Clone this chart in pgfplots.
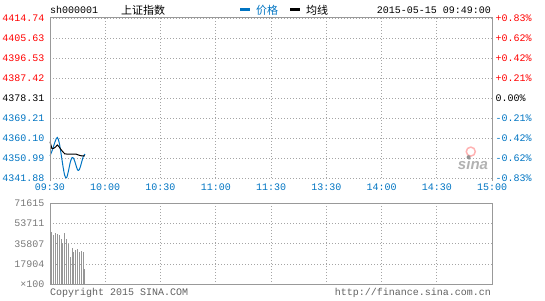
\documentclass[border=0pt]{standalone}
\usepackage{pgfplots}
\pgfplotsset{compat=1.18}
\usepackage{fontspec}
\setmainfont{Liberation Sans}
\setmonofont{Liberation Mono}
\newfontfamily\cjk{Noto Sans CJK SC}
\definecolor{sblue}{RGB}{0,116,194}
\definecolor{sred}{RGB}{255,0,0}
\definecolor{sframe}{RGB}{153,153,153}
\definecolor{sgrid}{RGB}{165,165,165}
\definecolor{svol}{RGB}{150,150,150}
\definecolor{slab}{RGB}{120,120,120}
\newcommand{\mono}{\ttfamily\fontsize{10}{10}\selectfont}
\begin{document}
\begin{tikzpicture}
\path[use as bounding box] (0pt,0pt) rectangle (545pt,300pt);
% header
\node[anchor=west,inner sep=0] at (50pt,290pt) {\mono sh000001};
\node[anchor=west,inner sep=0] at (121pt,290pt) {\cjk\fontsize{11}{11}\selectfont 上证指数};
\fill[sblue] (240pt,289pt) rectangle (250pt,291.5pt);
\node[anchor=west,inner sep=0,text=sblue] at (256pt,290pt) {\cjk\fontsize{11}{11}\selectfont 价格};
\fill[black] (290pt,289pt) rectangle (300pt,291.5pt);
\node[anchor=west,inner sep=0] at (306pt,290pt) {\cjk\fontsize{11}{11}\selectfont 均线};
\node[anchor=east,inner sep=0] at (491pt,290pt) {\mono 2015-05-15 09:49:00};
% price axis
\begin{axis}[
  at={(50pt,122pt)}, anchor=south west, scale only axis,
  width=442pt, height=160pt,
  xmin=0, xmax=240, ymin=4341.88, ymax=4414.74,
  axis line style={draw=none},
  major tick length=0pt,
  xtick={0,30,...,240},
  xticklabels={09:30,10:00,10:30,11:00,11:30,13:30,14:00,14:30,15:00},
  xticklabel style={text=sblue, font=\mono, anchor=center, yshift=-9pt},
  ytick={4341.88,4350.99,4360.10,4369.21,4387.42,4396.53,4405.63,4414.74},
  yticklabels={\color{sblue}4341.88,\color{sblue}4350.99,\color{sblue}4360.10,\color{sblue}4369.21,\color{sred}4387.42,\color{sred}4396.53,\color{sred}4405.63,\color{sred}4414.74},
  yticklabel style={font=\mono, anchor=east, xshift=-2pt},
  extra y ticks={4378.31},
  extra y tick labels={4378.31},
  extra y tick style={grid style={black, dash pattern=on 2pt off 2pt, line width=0.8pt}},
  grid=major,
  major grid style={sgrid, dash pattern=on 1pt off 2pt, line width=0.7pt},
  clip=false,
]
\node[text=sframe!75, font=\bfseries\itshape\fontsize{15}{15}\selectfont, inner sep=0] at (rel axis cs:0.957,0.085) {sina};
\draw[red!30, line width=1.5pt] (rel axis cs:0.952,0.165) circle (4.5pt);
\fill[slab!80] (rel axis cs:0.947,0.13) circle (2pt);
\addplot[sblue, line width=1pt, smooth, tension=0.5] coordinates {
(0,4352.0) (1,4354.0) (2,4356.5) (3,4359.0) (4,4360.3) (5,4358.0) (6,4353.0) (7,4347.5) (8,4343.0) (9,4342.0)
(10,4345.0) (11,4349.0) (12,4351.2) (13,4350.5) (14,4348.0) (15,4345.5) (16,4345.8) (17,4348.5) (18,4351.5) (19,4352.8)};
\addplot[black, line width=1pt] coordinates {
(0,4358.4) (1,4355.4) (2,4355.4) (3,4356.0) (4,4356.9) (5,4356.0) (6,4354.8) (7,4353.8) (8,4352.9) (9,4352.8)
(10,4352.8) (11,4352.8) (12,4352.8) (13,4352.8) (14,4352.8) (15,4352.5) (16,4352.2) (17,4352.0) (18,4351.9) (19,4351.9)};
\draw[sframe, line width=1pt] (rel axis cs:0,-0.02) -- (rel axis cs:0,1) -- (rel axis cs:1,1) -- (rel axis cs:1,-0.02);
\end{axis}
% percentage axis
\begin{axis}[
  at={(50pt,122pt)}, anchor=south west, scale only axis,
  width=442pt, height=160pt,
  xmin=0, xmax=240, ymin=-4, ymax=4,
  hide x axis, axis y line*=right, axis line style={draw=none},
  major tick length=0pt,
  ytick={-4,-3,-2,-1,0,1,2,3,4},
  yticklabels={\color{sblue}-0.83\%,\color{sblue}-0.62\%,\color{sblue}-0.42\%,\color{sblue}-0.21\%,0.00\%,\color{sred}+0.21\%,\color{sred}+0.42\%,\color{sred}+0.62\%,\color{sred}+0.83\%},
  yticklabel style={font=\mono, anchor=west, xshift=0pt},
]
\addplot[draw=none] coordinates {(0,0)};
\end{axis}
% volume axis
\begin{axis}[
  at={(50pt,15.5pt)}, anchor=south west, scale only axis,
  width=442pt, height=81.5pt,
  xmin=0, xmax=240, ymin=0, ymax=71615,
  axis line style={sframe, line width=1pt},
  major tick length=0pt,
  xtick={0,30,...,240}, xticklabels={},
  ytick={0,17904,35807,53711,71615},
  yticklabels={×100,17904,35807,53711,71615},
  yticklabel style={font=\mono, text=slab, anchor=east, xshift=-2pt},
  grid=major,
  major grid style={sgrid, dash pattern=on 1pt off 2pt, line width=0.7pt},
  scaled y ticks=false,
]
\addplot[ycomb, svol, line width=1pt] coordinates {
(1,46200) (2,43300) (3,45300) (4,44200) (5,43300) (6,39800) (7,36500) (8,45300) (9,40400) (10,36000)
(11,24100) (12,32400) (13,28500) (14,30000) (15,31600) (16,28500) (17,29200) (18,29000) (19,13300)};
\end{axis}
% footer
\node[anchor=west,inner sep=0,text=slab!80!black] at (50pt,7pt) {\mono Copyright 2015 SINA.COM};
\node[anchor=east,inner sep=0,text=slab!80!black] at (491pt,7pt) {\mono http://finance.sina.com.cn};
\end{tikzpicture}
\end{document}
